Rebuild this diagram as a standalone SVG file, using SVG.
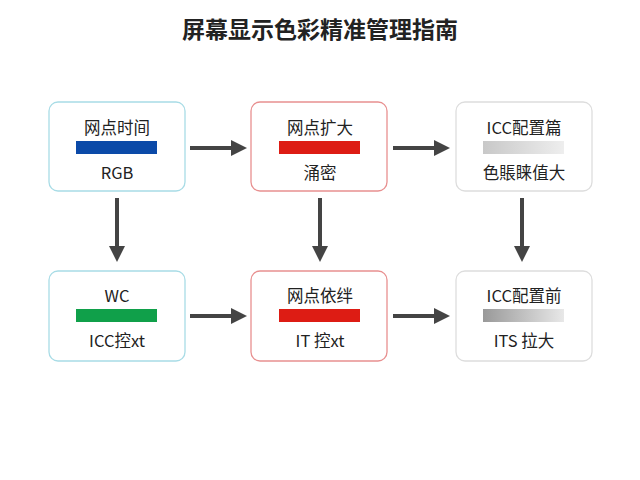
<svg xmlns="http://www.w3.org/2000/svg" width="640" height="480" viewBox="0 0 640 480">
<style>
text{font-family:"Noto Sans CJK SC","Liberation Sans",sans-serif;fill:#222;text-anchor:middle}
.t{font-size:16.5px}
.box{fill:#fff;stroke-width:1.3}
.ar{stroke:#444;stroke-width:4;fill:none;marker-end:url(#ah)}
</style>
<defs>
<marker id="ah" markerWidth="4" markerHeight="4" refX="2.5" refY="2" orient="auto"><path d="M0,0L4,2L0,4z" fill="#444"/></marker>
<linearGradient id="g1"><stop offset="0" stop-color="#c8c8c8"/><stop offset="1" stop-color="#eeeeee"/></linearGradient>
<linearGradient id="g2"><stop offset="0" stop-color="#999"/><stop offset="1" stop-color="#e8e8e8"/></linearGradient>
</defs>
<rect width="640" height="480" fill="#fff"/>
<text x="320" y="38" style="font-size:23px;font-weight:bold">屏幕显示色彩精准管理指南</text>
<g id="connectors">
<path class="ar" d="M190,148H241"/><path class="ar" d="M393,148H444"/>
<path class="ar" d="M190,316H241"/><path class="ar" d="M393,316H444"/>
<path class="ar" d="M117,198V256"/><path class="ar" d="M320,198V256"/><path class="ar" d="M522,198V256"/>
</g>
<g id="n1"><rect class="box" x="49" y="102" width="136" height="89" rx="9" stroke="#a8dce6"/><text class="t" x="117" y="134">网点时间</text><rect x="76" y="141" width="81" height="13" fill="#0b4aa8"/><text class="t" x="117" y="179">RGB</text></g>
<g id="n2"><rect class="box" x="251" y="102" width="136" height="89" rx="9" stroke="#e89090"/><text class="t" x="320" y="134">网点扩大</text><rect x="279" y="141" width="81" height="13" fill="#dd1c14"/><text class="t" x="320" y="179">涌密</text></g>
<g id="n3"><rect class="box" x="456" y="102" width="136" height="89" rx="9" stroke="#dddddd"/><text class="t" x="524" y="134">ICC配置篇</text><rect x="483" y="141" width="81" height="13" fill="url(#g1)"/><text class="t" x="524" y="179">色賬睐值大</text></g>
<g id="n4"><rect class="box" x="49" y="271" width="136" height="90" rx="9" stroke="#a8dce6"/><text class="t" x="117" y="302">WC</text><rect x="76" y="309" width="81" height="13" fill="#10a04a"/><text class="t" x="117" y="347">ICC控xt</text></g>
<g id="n5"><rect class="box" x="251" y="271" width="136" height="90" rx="9" stroke="#e89090"/><text class="t" x="320" y="302">网点依绊</text><rect x="279" y="309" width="81" height="13" fill="#dd1c14"/><text class="t" x="320" y="347">IT 控xt</text></g>
<g id="n6"><rect class="box" x="456" y="271" width="136" height="90" rx="9" stroke="#dddddd"/><text class="t" x="524" y="302">ICC配置前</text><rect x="483" y="309" width="81" height="13" fill="url(#g2)"/><text class="t" x="524" y="347">ITS 拉大</text></g>
</svg>
